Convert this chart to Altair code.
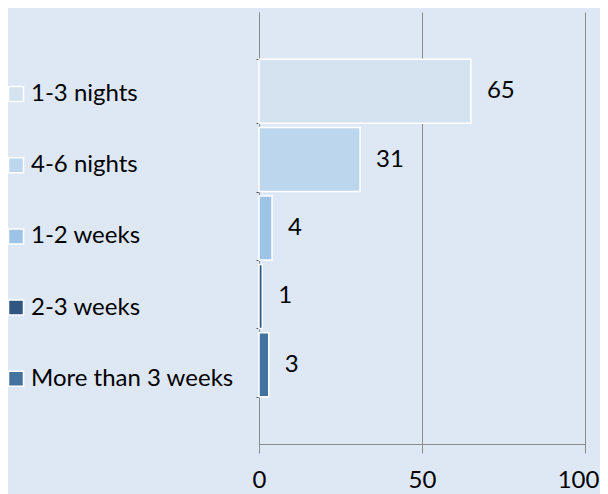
import altair as alt
import pandas as pd

categories = ["1-3 nights", "4-6 nights", "1-2 weeks", "2-3 weeks", "More than 3 weeks"]
values = [65, 31, 4, 1, 3]
colors = ["#d5e2f0", "#bcd6ed", "#9dc3e6", "#2f5781", "#44729f"]
x_ticks = [0, 50, 100]

df = pd.DataFrame({"category": categories, "value": values})

FONT = "Lato"
FS = 24
BG = "#dde8f4"
GRID = "#8c8c8c"

y_enc = alt.Y(
    "category:N",
    sort=categories,
    scale=alt.Scale(paddingInner=0.065, paddingOuter=0.69),
    axis=alt.Axis(labels=False, title=None, domain=True, domainColor=GRID,
                  ticks=True, tickBand="extent", tickSize=3, tickColor="#555555"),
)

bars = alt.Chart(df).mark_bar(stroke="white", strokeWidth=1.5).encode(
    x=alt.X("value:Q", scale=alt.Scale(domain=[0, 100], nice=False),
            axis=alt.Axis(values=x_ticks, title=None, grid=True, gridColor=GRID,
                          domainColor=GRID, tickColor=GRID, tickSize=9,
                          labelFontSize=FS, labelFont=FONT, labelColor="#000000",
                          labelPadding=15, labelFlush=False,
                          labelOffset={"condition": {"test": "datum.value == 100", "value": -7},
                                       "value": 0})),
    y=y_enc,
    fill=alt.Fill("category:N", sort=categories,
                  scale=alt.Scale(domain=categories, range=colors),
                  legend=alt.Legend(title=None, orient="none", legendX=-255, legendY=70,
                                    symbolType="square", symbolSize=225,
                                    symbolStrokeColor="white", symbolStrokeWidth=1.5,
                                    labelFontSize=FS, labelFont=FONT, labelColor="#000000",
                                    labelOffset=3, labelLimit=0, rowPadding=47.2, padding=0)),
)

labels = alt.Chart(df).mark_text(align="left", baseline="middle", dx=16,
                                 fontSize=FS, font=FONT, color="#000000").encode(
    x=alt.X("value:Q"),
    y=alt.Y("category:N", sort=categories),
    text=alt.Text("value:Q"),
)

chart = (bars + labels).properties(
    width=326, height=432,
    background=BG,
    padding={"left": 251, "top": 4, "right": 15, "bottom": 50},
    autosize=alt.AutoSizeParams(type="none"),
).configure_view(stroke=None)

chart.save("out.html", embed_options={"renderer": "svg", "actions": False})
